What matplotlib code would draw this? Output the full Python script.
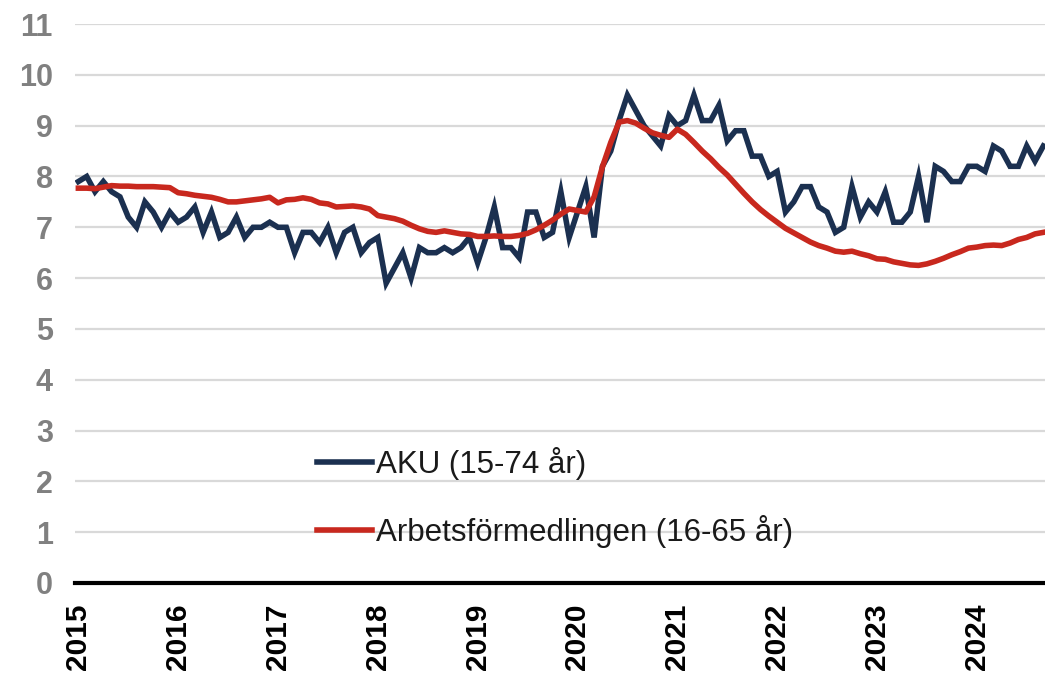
import matplotlib.pyplot as plt

plt.rcParams['font.family'] = ['Liberation Sans', 'DejaVu Sans']

# monthly values, Jan 2015 - Sep 2024
aku = [7.9, 8.0, 7.7, 7.9, 7.7, 7.6, 7.2, 7.0, 7.5, 7.3, 7.0, 7.3,
       7.1, 7.2, 7.4, 6.9, 7.3, 6.8, 6.9, 7.2, 6.8, 7.0, 7.0, 7.1,
       7.0, 7.0, 6.5, 6.9, 6.9, 6.7, 7.0, 6.5, 6.9, 7.0, 6.5, 6.7,
       6.8, 5.9, 6.2, 6.5, 6.0, 6.6, 6.5, 6.5, 6.6, 6.5, 6.6, 6.8,
       6.3, 6.8, 7.4, 6.6, 6.6, 6.4, 7.3, 7.3, 6.8, 6.9, 7.7, 6.8,
       7.3, 7.8, 6.8, 8.2, 8.5, 9.1, 9.6, 9.3, 9.0, 8.8, 8.6, 9.2,
       9.0, 9.1, 9.6, 9.1, 9.1, 9.4, 8.7, 8.9, 8.9, 8.4, 8.4, 8.0,
       8.1, 7.3, 7.5, 7.8, 7.8, 7.4, 7.3, 6.9, 7.0, 7.8, 7.2, 7.5,
       7.3, 7.7, 7.1, 7.1, 7.3, 8.0, 7.1, 8.2, 8.1, 7.9, 7.9, 8.2,
       8.2, 8.1, 8.6, 8.5, 8.2, 8.2, 8.6, 8.3, 8.6]

af = [7.77, 7.77, 7.76, 7.79, 7.82, 7.81, 7.81, 7.80, 7.80, 7.80, 7.79, 7.78,
      7.68, 7.66, 7.63, 7.61, 7.59, 7.55, 7.50, 7.50, 7.52, 7.54, 7.56, 7.59,
      7.48, 7.54, 7.55, 7.58, 7.55, 7.48, 7.46, 7.40, 7.41, 7.42, 7.40, 7.36,
      7.23, 7.20, 7.17, 7.12, 7.04, 6.97, 6.92, 6.90, 6.93, 6.90, 6.87, 6.86,
      6.82, 6.82, 6.83, 6.82, 6.82, 6.84, 6.88, 6.95, 7.04, 7.14, 7.26, 7.36,
      7.33, 7.30, 7.60, 8.19, 8.67, 9.07, 9.10, 9.05, 8.95, 8.86, 8.81, 8.77,
      8.93, 8.83, 8.67, 8.50, 8.35, 8.18, 8.03, 7.85, 7.67, 7.50, 7.35, 7.22,
      7.10, 6.98, 6.89, 6.80, 6.71, 6.64, 6.59, 6.53, 6.51, 6.53, 6.48, 6.44,
      6.38, 6.37, 6.32, 6.29, 6.26, 6.25, 6.28, 6.33, 6.39, 6.46, 6.52, 6.59,
      6.61, 6.64, 6.65, 6.64, 6.69, 6.76, 6.80, 6.87, 6.90]

years = ['2015', '2016', '2017', '2018', '2019', '2020', '2021', '2022', '2023', '2024']
months = list(range(len(aku)))

fig = plt.figure(figsize=(10.45, 6.75), dpi=100)
ax = fig.add_axes([0.0718, 0.1363, 0.9282, 0.8281])

ax.plot(months, aku, color='#1b3050', linewidth=4, label='AKU (15-74 år)',
        solid_joinstyle='miter')
ax.plot(months, af, color='#c8281e', linewidth=4, label='Arbetsförmedlingen (16-65 år)')

ax.set_xlim(-0.4, 116.2)
ax.set_ylim(0, 11)
ax.set_yticks(range(0, 12))
ax.set_xticks([12 * i for i in range(len(years))])
ax.set_xticklabels(years, rotation=90, fontsize=21.5, fontweight='bold', color='black')
ax.tick_params(axis='y', labelsize=22, labelcolor='#808080', length=0, pad=16)
ax.tick_params(axis='x', length=0, pad=15)
for lab in ax.get_yticklabels():
    lab.set_fontweight('bold')

ax.grid(axis='y', color='#d9d9d9', linewidth=1.6)
ax.set_axisbelow(True)
for s in ['left', 'right', 'top']:
    ax.spines[s].set_visible(False)
ax.spines['bottom'].set_color('black')
ax.spines['bottom'].set_linewidth(3)
ax.spines['bottom'].set_zorder(5)

leg = ax.legend(loc='lower left', bbox_to_anchor=(0.22, 0.012), frameon=False,
                fontsize=22.5, handlelength=1.77, handletextpad=0.13, labelspacing=1.13)
for t in leg.get_texts():
    t.set_color('#1a1a1a')

plt.savefig('out.png', dpi=100)
